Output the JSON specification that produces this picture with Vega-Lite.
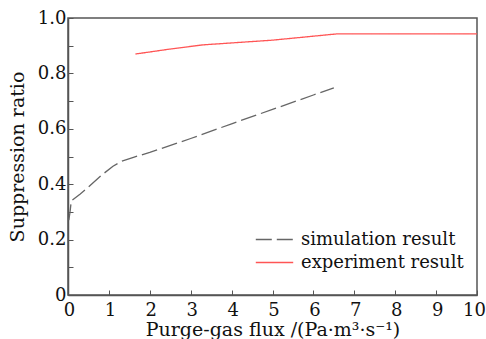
{
  "$schema": "https://vega.github.io/schema/vega-lite/v6.json",
  "width": 409,
  "height": 277,
  "autosize": "none",
  "padding": {"left": 68, "top": 18, "right": 9, "bottom": 44},
  "background": "white",
  "config": {
    "view": {"stroke": "#555555", "strokeWidth": 1.5},
    "font": "DejaVu Serif",
    "axis": {
      "grid": false,
      "domainColor": "#555555",
      "domainWidth": 1.5,
      "tickColor": "#555555",
      "tickSize": -5,
      "labelFont": "DejaVu Serif",
      "labelFontSize": 18,
      "labelColor": "#111111",
      "titleFont": "DejaVu Serif",
      "titleFontSize": 19,
      "titleFontWeight": "normal",
      "titleColor": "#111111"
    },
    "legend": {
      "labelFont": "DejaVu Serif",
      "labelFontSize": 18,
      "labelColor": "#111111"
    }
  },
  "data": {
    "values": [
      {"flux": 0.02, "ratio": 0.27, "series": "simulation result"},
      {"flux": 0.05, "ratio": 0.30, "series": "simulation result"},
      {"flux": 0.08, "ratio": 0.34, "series": "simulation result"},
      {"flux": 0.3, "ratio": 0.365, "series": "simulation result"},
      {"flux": 0.5, "ratio": 0.39, "series": "simulation result"},
      {"flux": 0.8, "ratio": 0.43, "series": "simulation result"},
      {"flux": 1.1, "ratio": 0.465, "series": "simulation result"},
      {"flux": 1.3, "ratio": 0.482, "series": "simulation result"},
      {"flux": 1.6, "ratio": 0.497, "series": "simulation result"},
      {"flux": 2.0, "ratio": 0.515, "series": "simulation result"},
      {"flux": 3.0, "ratio": 0.565, "series": "simulation result"},
      {"flux": 4.0, "ratio": 0.618, "series": "simulation result"},
      {"flux": 5.0, "ratio": 0.67, "series": "simulation result"},
      {"flux": 6.0, "ratio": 0.722, "series": "simulation result"},
      {"flux": 6.5, "ratio": 0.748, "series": "simulation result"},
      {"flux": 1.65, "ratio": 0.87, "series": "experiment result"},
      {"flux": 2.5, "ratio": 0.888, "series": "experiment result"},
      {"flux": 3.3, "ratio": 0.903, "series": "experiment result"},
      {"flux": 4.0, "ratio": 0.91, "series": "experiment result"},
      {"flux": 5.0, "ratio": 0.92, "series": "experiment result"},
      {"flux": 6.6, "ratio": 0.943, "series": "experiment result"},
      {"flux": 10.0, "ratio": 0.943, "series": "experiment result"}
    ]
  },
  "mark": {"type": "line", "strokeWidth": 1.3, "clip": true},
  "encoding": {
    "x": {
      "field": "flux",
      "type": "quantitative",
      "scale": {"domain": [0, 10], "nice": false},
      "axis": {
        "values": [0, 1, 2, 3, 4, 5, 6, 7, 8, 9, 10],
        "title": "Purge-gas flux /(Pa·m³·s⁻¹)",
        "labelPadding": 11,
        "titlePadding": 1,
        "labelFlush": false,
        "labelOffset": {"condition": {"test": "datum.value == 10", "value": -3}, "value": 1}
      }
    },
    "y": {
      "field": "ratio",
      "type": "quantitative",
      "scale": {"domain": [0, 1], "nice": false},
      "axis": {
        "values": [0, 0.1, 0.2, 0.3, 0.4, 0.5, 0.6, 0.7, 0.8, 0.9, 1.0],
        "labelExpr": "round(datum.value*10) % 2 == 0 ? (datum.value == 0 ? '0' : format(datum.value, '.1f')) : ''",
        "title": "Suppression ratio",
        "labelPadding": 7,
        "titlePadding": 10
      }
    },
    "color": {
      "field": "series",
      "type": "nominal",
      "scale": {"domain": ["simulation result", "experiment result"], "range": ["#666666", "#ff5555"]},
      "legend": {
        "title": null,
        "orient": "none",
        "legendX": 196,
        "legendY": 211,
        "symbolType": "M-2,0L2,0",
        "symbolSize": 350,
        "symbolStrokeWidth": 1.3,
        "rowPadding": 3,
        "labelOffset": 16,
        "labelLimit": 300
      }
    },
    "strokeDash": {
      "field": "series",
      "type": "nominal",
      "scale": {"domain": ["simulation result", "experiment result"], "range": [[16, 5], [1, 0]]},
      "legend": null
    }
  }
}
